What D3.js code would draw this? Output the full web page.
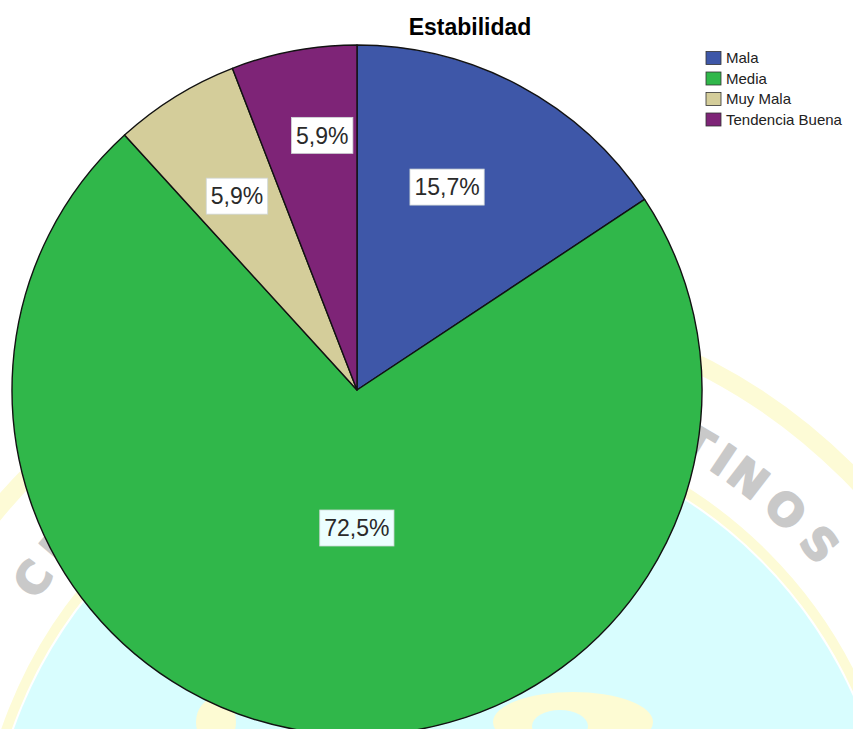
<!DOCTYPE html>
<html>
<head>
<meta charset="utf-8">
<script src="https://cdn.jsdelivr.net/npm/d3@7"></script>
<style>
  html, body { margin: 0; padding: 0; background: #fff; }
  svg { display: block; }
</style>
</head>
<body>
<svg id="chart" width="853" height="729"></svg>
<script>
// ---- data ----
const categories = ["Mala", "Media", "Muy Mala", "Tendencia Buena"];
const counts = [8, 37, 3, 3];
const percentLabels = ["15,7%", "72,5%", "5,9%", "5,9%"];
const title = "Estabilidad";

// ---- style ----
const colors = ["#3e57a8", "#30b74a", "#d4cd9a", "#7e2477"];
const labelRadius = [222, 138, 228, 257];
const labelAngleShift = [-4.3, -7, 0, 2.8]; // degrees
const W = 853, H = 729;
const cx = 357, cy = 390, R = 345;

const svg = d3.select("#chart");

// ---- faint background seal (watermark decoration) ----
const wm = svg.append("g").attr("transform", `translate(440,880)`);
wm.append("circle").attr("r", 452).attr("fill", "#d8fdfe");
wm.append("circle").attr("r", 459).attr("fill", "none").attr("stroke", "#fdfbd6").attr("stroke-width", 10);
wm.append("circle").attr("r", 577).attr("fill", "none").attr("stroke", "#fdfbd6").attr("stroke-width", 18);
// small emblem blobs near the bottom
svg.append("ellipse").attr("cx", 573).attr("cy", 722).attr("rx", 80).attr("ry", 30).attr("fill", "#fdfbd3");
svg.append("ellipse").attr("cx", 560).attr("cy", 726).attr("rx", 28).attr("ry", 16).attr("fill", "#d8fdfe");
svg.append("ellipse").attr("cx", 216).attr("cy", 722).attr("rx", 20).attr("ry", 24).attr("fill", "#fdfbd3");
const wmLetters = [
  {ch: "C", a: -53.5}, {ch: "I", a: -49.5}, {ch: "O", a: -45.5},
  {ch: "T", a: 30.5}, {ch: "I", a: 34}, {ch: "N", a: 37.5}, {ch: "O", a: 43}, {ch: "S", a: 48.5}
];
wm.selectAll("text.wm").data(wmLetters).join("text")
  .attr("class", "wm")
  .attr("transform", d => `rotate(${d.a}) translate(0,${-508 + 17})`)
  .attr("text-anchor", "middle")
  .attr("font-family", "DejaVu Sans, sans-serif")
  .attr("font-weight", "bold")
  .attr("font-size", 44)
  .attr("fill", "#c9c9c9")
  .attr("stroke", "#c9c9c9")
  .attr("stroke-width", 2)
  .attr("stroke-linejoin", "round")
  .text(d => d.ch);

// ---- pie ----
const pie = d3.pie().sort(null).value(d => d.value);
const data = categories.map((c, i) => ({ cat: c, value: counts[i], label: percentLabels[i], i }));
const arcs = pie(data);
const arc = d3.arc().innerRadius(0).outerRadius(R);

const g = svg.append("g").attr("transform", `translate(${cx},${cy})`);
g.selectAll("path.slice").data(arcs).join("path")
  .attr("class", "slice")
  .attr("d", arc)
  .attr("fill", d => colors[d.data.i])
  .attr("stroke", "#121212")
  .attr("stroke-width", 1.4)
  .attr("stroke-linejoin", "round");

// ---- value labels ----
const lab = g.selectAll("g.lab").data(arcs).join("g")
  .attr("class", "lab")
  .attr("transform", d => {
    const a = (d.startAngle + d.endAngle) / 2 + labelAngleShift[d.data.i] * Math.PI / 180;
    const r = labelRadius[d.data.i];
    return `translate(${r * Math.sin(a)},${-r * Math.cos(a)})`;
  });
lab.each(function(d) {
  const sel = d3.select(this);
  const t = sel.append("text")
    .attr("text-anchor", "middle")
    .attr("dy", "0.36em")
    .attr("font-family", "Liberation Sans, Arial, sans-serif")
    .attr("font-size", 23)
    .attr("fill", "#2a2a2a")
    .text(d.data.label);
  const bb = t.node().getBBox();
  sel.insert("rect", "text")
    .attr("x", bb.x - 4.5)
    .attr("y", -18)
    .attr("width", bb.width + 9)
    .attr("height", 36)
    .attr("fill", d.data.i === 1 ? "#ecffff" : "#ffffff")
    .attr("stroke", "#cfd6d6")
    .attr("stroke-width", 0.8);
});

// ---- title ----
svg.append("text")
  .attr("x", 470).attr("y", 35)
  .attr("text-anchor", "middle")
  .attr("font-family", "Liberation Sans, Arial, sans-serif")
  .attr("font-weight", "bold")
  .attr("font-size", 23)
  .attr("fill", "#000")
  .text(title);

// ---- legend ----
const legend = svg.append("g").attr("transform", "translate(706,58)");
const rows = legend.selectAll("g").data(categories).join("g")
  .attr("transform", (d, i) => `translate(0,${i * 20.5})`);
rows.append("rect")
  .attr("x", 0).attr("y", -6.5).attr("width", 15).attr("height", 13)
  .attr("fill", (d, i) => colors[i])
  .attr("stroke", "#333").attr("stroke-width", 0.8);
rows.append("text")
  .attr("x", 20).attr("y", 0).attr("dy", "0.36em")
  .attr("font-family", "Liberation Sans, Arial, sans-serif")
  .attr("font-size", 15)
  .attr("fill", "#222")
  .text(d => d);
</script>
</body>
</html>
